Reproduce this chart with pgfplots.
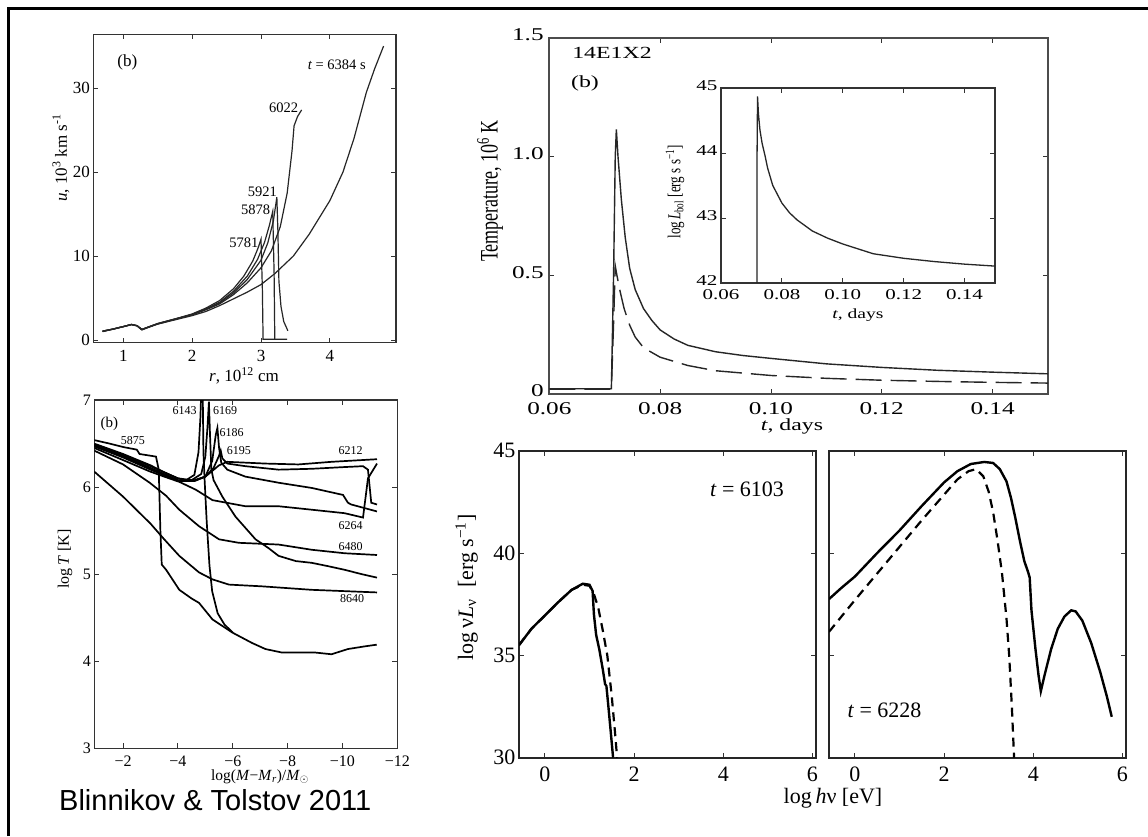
\documentclass[border=0pt]{standalone}
\usepackage{pgfplots}
\pgfplotsset{compat=1.18}
\usepackage{fontspec}
\usepackage{graphicx}
\setmainfont{Liberation Serif}
\newfontfamily\arialfont{Liberation Sans}
\newcommand{\fs}[1]{\fontsize{#1}{#1}\selectfont}
\newcommand{\sx}[1]{\scalebox{1.4}[1]{#1}}
\newcommand{\sy}[1]{\scalebox{1}[1.4]{#1}}
\pgfplotsset{
  base/.style={scale only axis, anchor=south west,
    axis line style={black!80, line width=1.3pt},
    tick style={black!80, line width=0.9pt},
    major tick length=5pt, tick align=inside, clip=true,
    /pgf/number format/assume math mode=true},
  pa/.style={black!85, line width=1.2pt, mark=none, solid},
  pb/.style={black, line width=1.7pt, mark=none, solid},
}
\begin{document}
\begin{tikzpicture}[x=1pt,y=1pt]
\path[use as bounding box] (0,0) rectangle (1148,836);
\fill[white] (0,0) rectangle (1148,836);
\draw[line width=2.7pt] (8.7,0) -- (8.7,827.3) -- (1148,827.3);

% ---------- Panel 1: u(r) ----------
\begin{axis}[base, at={(93.3pt,493.3pt)}, width=302.7pt, height=308.4pt,
  xmin=0.565, xmax=4.96, ymin=-0.32, ymax=36.4,
  xtick={1,2,3,4}, ytick={0,10,20,30},
  tick label style={font=\fs{17}}, xticklabel style={yshift=-4pt}]
\addplot[pa] coordinates {(0.7,1.05) (0.85,1.3) (1.0,1.6) (1.12,1.85) (1.2,1.7) (1.27,1.25) (1.35,1.5) (1.5,1.95) (1.75,2.5) (2.0,3.1) (2.2,3.8) (2.4,4.7) (2.6,6.1) (2.75,7.6) (2.88,9.4) (2.96,11.0) (3.0,12.0) (3.02,6) (3.03,0.1) (3.38,0.1)};
\addplot[pa] coordinates {(0.7,1.0) (0.85,1.28) (1.0,1.58) (1.12,1.82) (1.2,1.68) (1.27,1.2) (1.35,1.45) (1.5,1.9) (1.75,2.45) (2.0,3.05) (2.2,3.7) (2.4,4.5) (2.6,5.8) (2.8,7.6) (2.95,9.6) (3.05,11.6) (3.12,13.6) (3.17,15.3) (3.19,8) (3.2,0.1)};
\addplot[pa] coordinates {(0.7,1.05) (0.85,1.3) (1.0,1.6) (1.12,1.85) (1.2,1.7) (1.27,1.25) (1.35,1.5) (1.5,1.95) (1.75,2.5) (2.0,3.05) (2.2,3.65) (2.4,4.4) (2.6,5.6) (2.8,7.2) (3.0,9.5) (3.1,11.6) (3.18,14.2) (3.23,17.0) (3.245,13) (3.26,7) (3.29,4) (3.33,2.2) (3.39,1.1)};
\addplot[pa] coordinates {(0.7,1.05) (0.85,1.3) (1.0,1.6) (1.12,1.85) (1.2,1.7) (1.27,1.25) (1.35,1.5) (1.5,1.95) (1.75,2.5) (2.0,3.0) (2.2,3.6) (2.4,4.3) (2.6,5.4) (2.8,6.8) (3.0,8.6) (3.15,10.6) (3.28,13.5) (3.38,17.5) (3.45,22.5) (3.48,25.5) (3.53,26.6) (3.59,27.4)};
\addplot[pa] coordinates {(0.7,1.05) (0.85,1.3) (1.0,1.6) (1.12,1.85) (1.2,1.7) (1.27,1.25) (1.35,1.5) (1.5,1.9) (1.75,2.4) (2.0,2.9) (2.2,3.4) (2.4,4.1) (2.6,4.9) (2.8,5.7) (3.0,6.6) (3.2,7.9) (3.47,10.0) (3.7,12.6) (4.0,16.6) (4.19,20.0) (4.35,24.0) (4.53,29.5) (4.65,32.3) (4.78,35.0)};
\node[font=\fs{17}] at (axis cs:1.06,33) {(b)};
\node[font=\fs{14.5}] at (axis cs:4.1,32.8) {\textit{t} = 6384 s};
\node[font=\fs{14.5}] at (axis cs:3.33,27.6) {6022};
\node[font=\fs{14.5}] at (axis cs:3.02,17.6) {5921};
\node[font=\fs{14.5}] at (axis cs:2.92,15.5) {5878};
\node[font=\fs{14.5}] at (axis cs:2.75,11.6) {5781};
\end{axis}

% ---------- Panel 2: log T ----------
\begin{axis}[base, at={(94.3pt,87.7pt)}, width=303pt, height=348.3pt,
  x dir=reverse, xmin=-12, xmax=-0.95, ymin=3, ymax=7,
  xtick={-2,-4,-6,-8,-10,-12}, xticklabels={−2,−4,−6,−8,−10,−12},
  ytick={3,4,5,6,7},
  tick label style={font=\fs{16}}, xticklabel style={yshift=-4pt}]
% 5875
\addplot[pb] coordinates {(-0.94,6.54) (-1.5,6.5) (-2.0,6.46) (-2.5,6.43) (-2.6,6.38) (-3.0,6.36) (-3.2,6.35) (-3.3,6.2) (-3.36,5.5) (-3.41,5.11) (-3.57,5.05) (-4.05,4.82) (-4.5,4.72) (-4.77,4.67) (-5.26,4.48) (-5.98,4.33) (-6.7,4.21) (-7.19,4.14) (-7.79,4.1) (-8.39,4.1) (-9.0,4.1) (-9.6,4.08) (-10.2,4.14) (-10.8,4.17) (-11.25,4.19)};
% 6143
\addplot[pb] coordinates {(-0.94,6.5) (-2,6.38) (-3,6.25) (-3.5,6.17) (-4.0,6.1) (-4.3,6.08) (-4.6,6.14) (-4.75,6.4) (-4.82,6.8) (-4.86,7.2) (-4.9,7.2) (-4.93,6.4) (-4.97,6.1) (-5.05,5.6) (-5.15,5.1) (-5.25,4.8) (-5.45,4.55) (-5.7,4.42) (-6.0,4.33)};
% 6169
\addplot[pb] coordinates {(-0.94,6.49) (-2,6.37) (-3,6.24) (-4,6.1) (-4.5,6.08) (-4.85,6.15) (-5.0,6.35) (-5.08,6.7) (-5.13,6.98) (-5.17,6.6) (-5.22,6.2) (-5.3,6.08) (-5.62,5.89) (-6.1,5.66) (-6.83,5.4) (-7.3,5.3) (-7.67,5.21) (-8.3,5.15) (-8.88,5.13) (-9.5,5.09) (-10.08,5.05) (-10.7,5.0) (-11.26,4.96)};
% 6186
\addplot[pb] coordinates {(-0.94,6.48) (-2,6.36) (-3,6.22) (-4,6.08) (-4.6,6.07) (-5.0,6.12) (-5.25,6.3) (-5.38,6.6) (-5.44,6.68) (-5.5,6.45) (-5.58,6.28) (-5.8,6.2) (-6.46,6.12) (-7.67,6.05) (-8.88,5.99) (-10.02,5.91) (-10.2,5.82) (-10.32,5.8) (-11.26,5.72)};
% 6195
\addplot[pb] coordinates {(-0.94,6.47) (-2,6.35) (-3,6.21) (-4,6.07) (-4.6,6.07) (-5.0,6.12) (-5.3,6.22) (-5.5,6.36) (-5.56,6.42) (-5.62,6.33) (-5.8,6.27) (-6.46,6.24) (-7.67,6.2) (-8.88,6.21) (-10.08,6.23) (-10.75,6.24) (-10.93,6.2) (-11.05,5.82) (-11.26,5.8)};
% 6212
\addplot[pb] coordinates {(-0.94,6.47) (-2,6.34) (-3,6.2) (-4,6.07) (-4.5,6.07) (-5.0,6.12) (-5.5,6.25) (-5.8,6.29) (-6.5,6.28) (-7.19,6.27) (-8.39,6.26) (-9.6,6.29) (-11.26,6.32)};
% 6264
\addplot[pb] coordinates {(-0.94,6.45) (-2,6.31) (-2.97,6.18) (-3.5,6.12) (-4.05,6.06) (-4.65,5.97) (-5.26,5.85) (-6.46,5.78) (-7.67,5.78) (-8.88,5.74) (-10.08,5.7) (-10.75,5.65) (-10.93,6.1) (-11.26,6.27)};
% 6480
\addplot[pb] coordinates {(-0.94,6.42) (-2.0,6.26) (-2.97,6.05) (-3.57,5.9) (-4.05,5.74) (-4.77,5.55) (-5.5,5.4) (-6.22,5.36) (-7.67,5.34) (-8.88,5.28) (-10.08,5.24) (-11.26,5.22)};
% 8640
\addplot[pb] coordinates {(-0.94,6.18) (-2,5.89) (-3,5.58) (-3.5,5.4) (-4.05,5.21) (-4.77,5.02) (-5.26,4.94) (-5.86,4.88) (-7.07,4.86) (-8.88,4.82) (-11.26,4.79)};
\node[font=\fs{15}] at (axis cs:-1.5,6.73) {(b)};
\node[font=\fs{12}] at (axis cs:-2.36,6.53) {5875};
\node[font=\fs{12}] at (axis cs:-4.24,6.88) {6143};
\node[font=\fs{12}] at (axis cs:-5.72,6.88) {6169};
\node[font=\fs{12}] at (axis cs:-5.96,6.63) {6186};
\node[font=\fs{12}] at (axis cs:-6.22,6.42) {6195};
\node[font=\fs{12}] at (axis cs:-10.3,6.42) {6212};
\node[font=\fs{12}] at (axis cs:-10.3,5.56) {6264};
\node[font=\fs{12}] at (axis cs:-10.3,5.32) {6480};
\node[font=\fs{12}] at (axis cs:-10.35,4.72) {8640};
\end{axis}

% ---------- Panel 3: Temperature ----------
\begin{axis}[base, at={(549.3pt,442pt)}, width=498.7pt, height=356pt,
  axis line style={black!70, line width=1.8pt},
  xmin=0.06, xmax=0.15, ymin=0, ymax=1.5,
  xtick={0.06,0.08,0.10,0.12,0.14},
  xticklabels={\sx{0.06},\sx{0.08},\sx{0.10},\sx{0.12},\sx{0.14}},
  ytick={0,0.5,1,1.5}, yticklabels={\sx{0},\sx{0.5},\sx{1.0},\sx{1.5}},
  tick label style={font=\fs{18}, inner sep=0.5pt},
  xticklabel style={yshift=-8pt},
  yticklabel style={xshift=-5pt, yshift=3pt}]
\addplot[black!85, line width=1.4pt] coordinates {(0.06,0.022) (0.0712,0.022) (0.0716,0.5) (0.0719,1.0) (0.0721,1.115) (0.0724,1.0) (0.0730,0.82) (0.0737,0.66) (0.0745,0.53) (0.0755,0.44) (0.0770,0.36) (0.0785,0.31) (0.080,0.27) (0.0825,0.232) (0.085,0.205) (0.090,0.178) (0.095,0.162) (0.100,0.15) (0.110,0.127) (0.120,0.112) (0.130,0.100) (0.140,0.092) (0.150,0.085)};
\addplot[black!85, line width=1.4pt, dash pattern=on 26pt off 9pt] coordinates {(0.06,0.02) (0.0712,0.02) (0.0716,0.3) (0.0719,0.54) (0.0722,0.5) (0.0728,0.43) (0.0735,0.36) (0.0745,0.29) (0.0755,0.24) (0.077,0.195) (0.08,0.155) (0.085,0.12) (0.09,0.098) (0.10,0.078) (0.11,0.066) (0.12,0.058) (0.13,0.053) (0.14,0.049) (0.15,0.046)};
\end{axis}

% ---------- Inset ----------
\begin{axis}[base, at={(721pt,553pt)}, width=274pt, height=195pt,
  axis line style={black!80, line width=1.3pt},
  axis background/.style={fill=white},
  xmin=0.06, xmax=0.15, ymin=42, ymax=45,
  xtick={0.06,0.08,0.10,0.12,0.14},
  xticklabels={\sx{0.06},\sx{0.08},\sx{0.10},\sx{0.12},\sx{0.14}},
  ytick={42,43,44,45}, yticklabels={\sx{42},\sx{43},\sx{44},\sx{45}},
  tick label style={font=\fs{15}}, xticklabel style={yshift=-3pt},
  yticklabel style={yshift=2pt}]
\addplot[black!85, line width=1.3pt] coordinates {(0.0718,41.9) (0.07185,44.0) (0.0720,44.87) (0.0723,44.6) (0.0728,44.35) (0.0735,44.15) (0.0745,43.95) (0.0753,43.77) (0.077,43.5) (0.080,43.23) (0.0825,43.08) (0.085,42.97) (0.09,42.8) (0.095,42.69) (0.10,42.6) (0.11,42.45) (0.12,42.38) (0.13,42.33) (0.14,42.29) (0.15,42.26)};
\end{axis}

% ---------- Spectra left ----------
\begin{axis}[base, at={(519pt,78.3pt)}, width=297pt, height=307pt,
  axis line style={black!85, line width=1.6pt},
  xmin=-0.58, xmax=6.08, ymin=30, ymax=45,
  xtick={0,2,4,6}, ytick={30,35,40,45},
  tick label style={font=\fs{22}}, xticklabel style={yshift=-6pt}]
\addplot[black, line width=2.4pt] coordinates {(-0.58,35.5) (-0.3,36.3) (0,36.95) (0.3,37.6) (0.6,38.2) (0.85,38.5) (1.0,38.45) (1.07,38.15) (1.1,37.0) (1.15,36.0) (1.22,35.3) (1.3,34.3) (1.35,33.6) (1.38,33.5) (1.42,32.6) (1.48,31.2) (1.53,30.0)};
\addplot[black, line width=2.2pt, dash pattern=on 9pt off 6pt] coordinates {(-0.58,35.5) (-0.3,36.3) (0,36.95) (0.3,37.6) (0.6,38.2) (0.85,38.45) (1.0,38.4) (1.1,38.0) (1.2,37.3) (1.3,36.2) (1.4,35.0) (1.5,33.0) (1.57,31.3) (1.62,30.0)};
\end{axis}

% ---------- Spectra right ----------
\begin{axis}[base, at={(829pt,78.3pt)}, width=297pt, height=307pt,
  axis line style={black!85, line width=1.6pt},
  xmin=-0.58, xmax=6.08, ymin=30, ymax=45,
  xtick={0,2,4,6}, ytick={30,35,40,45}, yticklabels={},
  tick label style={font=\fs{22}}, xticklabel style={yshift=-6pt}]
\addplot[black, line width=2.4pt] coordinates {(-0.58,37.75) (-0.3,38.3) (0,38.85) (0.5,40.0) (1.0,41.1) (1.5,42.3) (2.0,43.45) (2.3,44.0) (2.6,44.35) (2.9,44.45) (3.1,44.4) (3.25,44.1) (3.4,43.5) (3.5,42.7) (3.6,41.7) (3.7,40.6) (3.8,39.6) (3.88,39.1) (3.92,38.8) (3.96,37.2) (4.05,35.3) (4.12,34.0) (4.17,33.25) (4.25,34.0) (4.4,35.3) (4.55,36.3) (4.7,36.9) (4.85,37.2) (4.95,37.15) (5.1,36.7) (5.3,35.6) (5.5,34.2) (5.65,33.0) (5.76,32.0)};
\addplot[black, line width=2.2pt, dash pattern=on 9pt off 6pt] coordinates {(-0.58,36.15) (-0.3,36.9) (0,37.7) (0.5,39.0) (1.0,40.3) (1.5,41.6) (2.0,42.85) (2.3,43.6) (2.55,44.0) (2.72,44.1) (2.88,43.75) (3.0,43.0) (3.1,42.0) (3.2,40.6) (3.3,39.0) (3.4,36.8) (3.46,35.0) (3.52,32.5) (3.57,30.0)};
\end{axis}

% ---------- labels ----------
\node[rotate=90, font=\fs{17}] at (61,678) {\textit{u}, 10\textsuperscript{3} km s\textsuperscript{-1}};
\node[font=\fs{17}] at (244,460) {\textit{r}, 10\textsuperscript{12} cm};
\node[rotate=90, font=\fs{16}] at (65,277) {log\,\textit{T} [K]};
\node[font=\fs{15.5}] at (260,59) {log(\textit{M}−\textit{M}\textsubscript{\textit{r}})/\textit{M}$_\odot$};
\node[anchor=base west, font=\arialfont\fs{29}, inner sep=0] at (59,26) {Blinnikov \& Tolstov 2011};

\node[rotate=90, font=\fs{18}] at (490,645) {\sy{Temperature, 10\textsuperscript{6} K}};
\node[font=\fs{17}] at (792,410) {\sx{\textit{t}, days}};
\node[font=\fs{17}] at (612,783.5) {\sx{14E1X2}};
\node[font=\fs{17}] at (585,753) {\sx{(b)}};
\node[rotate=90, font=\fs{13}] at (675,644) {\sy{log\,\textit{L}\textsubscript{bol} [erg s s\textsuperscript{−1}]}};
\node[font=\fs{14}] at (858,521) {\sx{\textit{t}, days}};

\node[rotate=90, font=\fs{22}] at (466.6,248.5) {log\,ν\textit{L}\textsubscript{ν}\ \ [erg s\textsuperscript{−1}]};
\node[font=\fs{22}] at (833,38) {log\,\textit{h}ν [eV]};
\node[font=\fs{22}] at (747,347) {\textit{t} = 6103};
\node[font=\fs{22}] at (884.5,126) {\textit{t} = 6228};
\end{tikzpicture}
\end{document}
